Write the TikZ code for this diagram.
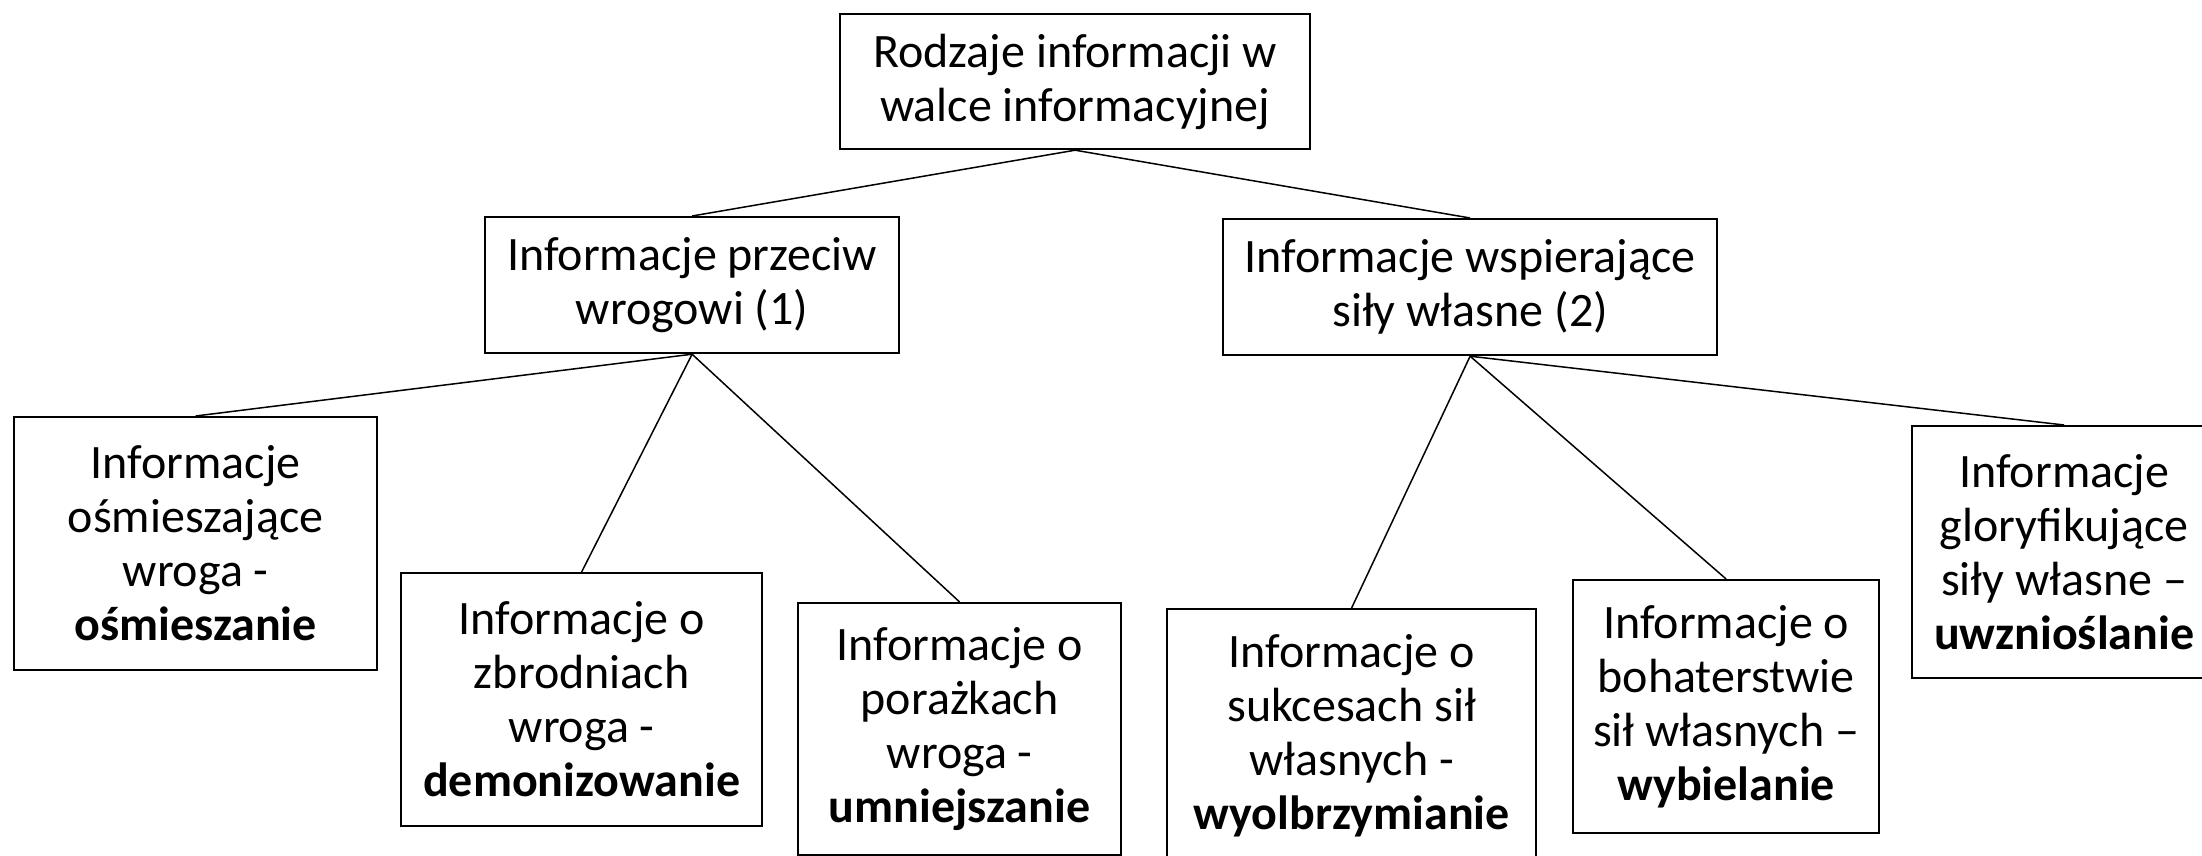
\documentclass[tikz,border=0pt]{standalone}
\usepackage{fontspec}
\setmainfont{Carlito}
\begin{document}
\begin{tikzpicture}[x=1pt,y=-1pt,
  box/.style={draw=black,line width=2.2pt,rectangle,inner sep=0pt,align=center,
    font=\fontsize{48}{54}\selectfont,anchor=north west},
  link/.style={draw=black,line width=1.5pt}]
\useasboundingbox (0,0) rectangle (2202,856);
\fill[white] (0,0) rectangle (2202,856);
\node[box,minimum width=470pt,minimum height=135pt] (root) at (839,13) {Rodzaje informacji w\\walce informacyjnej};
\node[box,minimum width=414pt,minimum height=136pt] (b1) at (484,216) {Informacje przeciw\\wrogowi (1)};
\node[box,minimum width=494pt,minimum height=136pt] (b2) at (1222,218) {Informacje wspierające\\siły własne (2)};
\node[box,minimum width=363pt,minimum height=253pt] (l1) at (13,416) {Informacje\\ośmieszające\\wroga -\\\textbf{ośmieszanie}};
\node[box,minimum width=361pt,minimum height=253pt] (l2) at (400,572) {Informacje o\\zbrodniach\\wroga -\\\textbf{demonizowanie}};
\node[box,minimum width=323pt,minimum height=252pt] (l3) at (797,602) {Informacje o\\porażkach\\wroga -\\\textbf{umniejszanie}};
\node[box,minimum width=369pt,minimum height=253pt] (r1) at (1166,608) {Informacje o\\sukcesach sił\\własnych -\\\textbf{wyolbrzymianie}};
\node[box,minimum width=306pt,minimum height=253pt] (r2) at (1572,579) {Informacje o\\bohaterstwie\\sił własnych –\\\textbf{wybielanie}};
\node[box,minimum width=304pt,minimum height=252pt] (r3) at (1911,425) {Informacje\\gloryfikujące\\siły własne –\\\textbf{uwznioślanie}};
\draw[link] (root.south) -- (b1.north);
\draw[link] (root.south) -- (b2.north);
\draw[link] (b1.south) -- (l1.north);
\draw[link] (b1.south) -- (l2.north);
\draw[link] (b1.south) -- (l3.north);
\draw[link] (b2.south) -- (r1.north);
\draw[link] (b2.south) -- (r2.north);
\draw[link] (b2.south) -- (r3.north);
\end{tikzpicture}
\end{document}
